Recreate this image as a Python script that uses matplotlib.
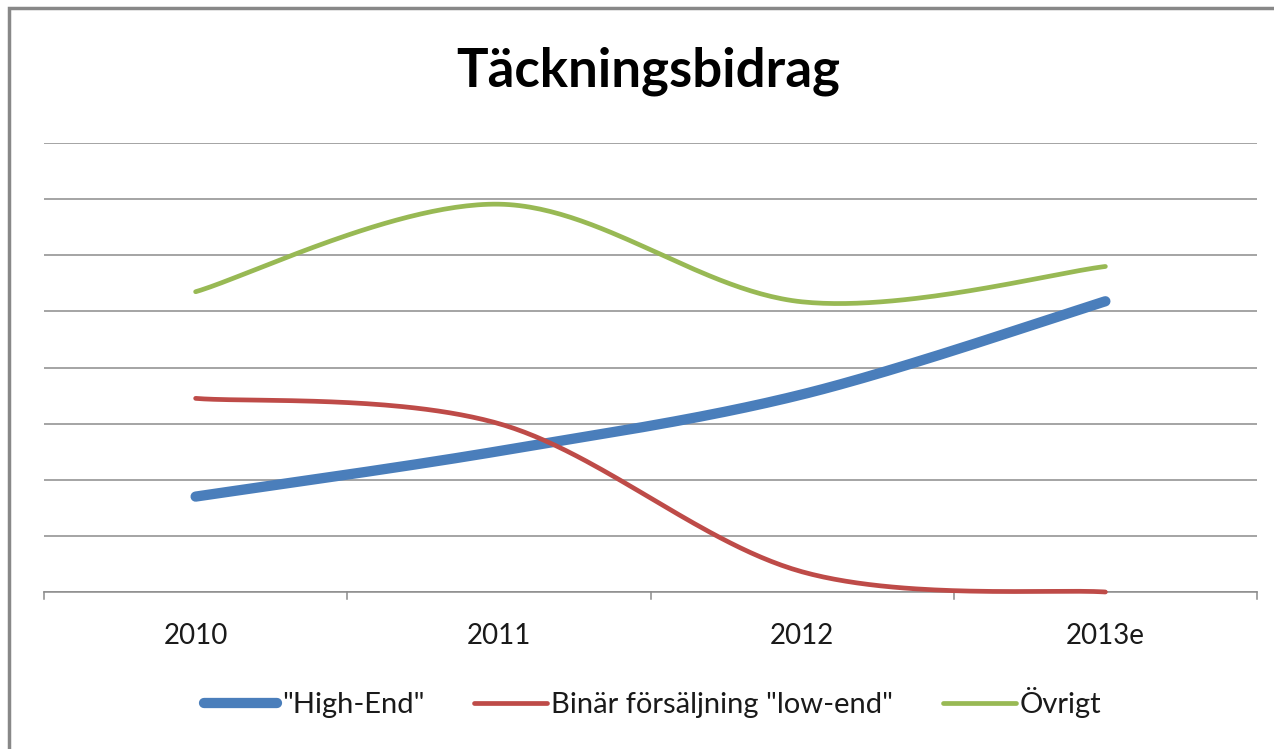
import numpy as np
import matplotlib
matplotlib.use("Agg")
import matplotlib.pyplot as plt
from matplotlib.patches import Rectangle

categories = ["2010", "2011", "2012", "2013e"]
high_end = [1.70, 2.51, 3.52, 5.18]
low_end = [3.45, 3.00, 0.36, 0.00]
ovrigt = [5.35, 6.91, 5.17, 5.80]
series_names = ['"High-End"', 'Binär försäljning "low-end"', 'Övrigt']
colors = ["#4A7EBB", "#BE4B48", "#98B954"]
widths = [7.4, 3.4, 3.4]


def smooth(xs, ys, n=60):
    xs = np.asarray(xs, float)
    ys = np.asarray(ys, float)
    P = np.column_stack([xs, ys])
    Pext = np.vstack([P[0], P, P[-1]])
    out = []
    for i in range(len(P) - 1):
        p0, p1, p2, p3 = Pext[i], Pext[i + 1], Pext[i + 2], Pext[i + 3]
        c1 = p1 + (p2 - p0) / 6.0
        c2 = p2 - (p3 - p1) / 6.0
        t = np.linspace(0, 1, n)[:, None]
        seg = ((1 - t) ** 3) * p1 + 3 * ((1 - t) ** 2) * t * c1 + 3 * (1 - t) * t ** 2 * c2 + t ** 3 * p2
        if i > 0:
            seg = seg[1:]
        out.append(seg)
    out = np.vstack(out)
    return out[:, 0], out[:, 1]


plt.rcParams['font.family'] = ['Lato', 'DejaVu Sans']

fig = plt.figure(figsize=(12.74, 7.49), dpi=100)
W, H = 1274, 749
ax = fig.add_axes([44 / W, 1 - 592 / H, (1257 - 44) / W, (592 - 143) / H])

x = np.arange(len(categories))
for vals, name, c, lw in zip([high_end, low_end, ovrigt], series_names, colors, widths):
    sx, sy = smooth(x, vals)
    ax.plot(sx, sy, color=c, lw=lw, solid_capstyle='round', label=name, zorder=3, clip_on=False)

ax.set_xlim(-0.5, len(categories) - 0.5)
ax.set_ylim(0, 8)
ax.set_yticks(np.arange(0, 9))
ax.yaxis.grid(True, color="#8C8C8C", lw=1.1)
ax.tick_params(axis='y', left=False, labelleft=False)
ax.set_xticks(x)
ax.set_xticklabels(categories, fontsize=20, color="#1A1A1A")
ax.tick_params(axis='x', length=0, pad=22)
for b in np.arange(-0.5, len(categories), 1.0):
    ax.plot([b, b], [0, -0.12], color="#8C8C8C", lw=1.1, clip_on=False, zorder=2)
for s in ['left', 'right', 'top']:
    ax.spines[s].set_visible(False)
ax.spines['bottom'].set_color("#8C8C8C")
ax.spines['bottom'].set_linewidth(1.1)
ax.set_axisbelow(True)

fig.text(0.5 * (457 + 840) / W, 1 - 71 / H, "Täckningsbidrag", ha='center', va='center',
         fontsize=38, fontweight='bold', color='black')

leg = fig.legend(loc='center', bbox_to_anchor=(653 / W, 1 - 703 / H), ncol=3, frameon=False,
                 fontsize=21, handlelength=2.5, handletextpad=0.15, columnspacing=1.7,
                 labelcolor="#1A1A1A")
for lh in leg.get_lines():
    lh.set_solid_capstyle('round')

fig.patches.append(Rectangle((9 / W, -0.05), 1.5, 1.05 - 8 / H, transform=fig.transFigure,
                             fill=False, edgecolor="#888888", lw=2.5))

fig.savefig("out.png", dpi=100)
